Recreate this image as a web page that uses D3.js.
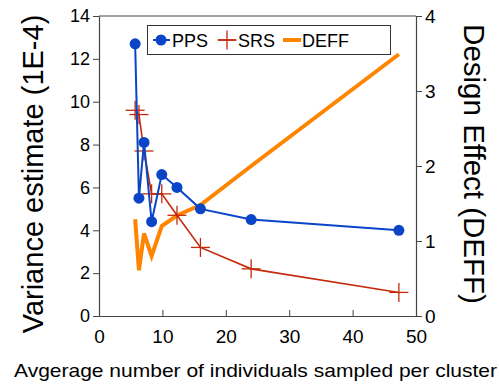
<!DOCTYPE html>
<html><head><meta charset="utf-8">
<script src="https://cdn.jsdelivr.net/npm/d3@7"></script>
<style>body{margin:0;background:#fff}svg{display:block}text{font-family:"Liberation Sans",Arial,sans-serif}</style>
</head><body><div id="c"></div>
<script>
const xValues = [5.7, 6.3, 7.1, 8.3, 9.9, 12.3, 16, 24, 47.3];
const ppsValues = [12.7, 5.5, 8.1, 4.4, 6.6, 6.0, 5.0, 4.5, 4.0];
const srsValues = [9.6, 9.4, 7.7, 5.7, 5.7, 4.7, 3.2, 2.2, 1.1];
const deffValues = [1.29, 0.61, 1.1, 0.8, 1.2, 1.34, 1.48, 2.0, 3.49];
const xTicks = [0, 10, 20, 30, 40, 50];
const yTicks = [0, 2, 4, 6, 8, 10, 12, 14];
const y2Ticks = [0, 1, 2, 3, 4];
const seriesNames = ["PPS", "SRS", "DEFF"];

const W = 499, H = 385;
const L = 99, R = 416, T = 16, B = 316;
const svg = d3.select("#c").append("svg").attr("width", W).attr("height", H);
const x = d3.scaleLinear().domain([0, 50]).range([L, R]);
const y = d3.scaleLinear().domain([0, 14]).range([B, T]);
const y2 = d3.scaleLinear().domain([0, 4]).range([B, T]);
const axisCol = "#444";
const blue = "#0a45c8", red = "#c42a0c", orange = "#ff8400";

// top frame
svg.append("line").attr("x1", L).attr("x2", R).attr("y1", T).attr("y2", T).attr("stroke", axisCol).attr("stroke-width", 1);

function styleAxis(g, fs) {
  g.select(".domain").attr("stroke", axisCol).attr("stroke-width", 1.2);
  g.selectAll(".tick line").attr("stroke", axisCol);
  g.selectAll(".tick text").attr("fill", "#000").style("font-size", fs + "px").style("font-family", '"Liberation Sans",Arial,sans-serif');
}

const gx = svg.append("g").attr("transform", `translate(0,${B})`)
  .call(d3.axisBottom(x).tickValues(xTicks).tickFormat(d3.format("d")).tickSizeInner(-6).tickSizeOuter(0).tickPadding(14));
styleAxis(gx, 19);
gx.selectAll(".tick text").attr("dy", "0.71em");

const gy = svg.append("g").attr("transform", `translate(${L},0)`)
  .call(d3.axisLeft(y).tickValues(yTicks).tickFormat(d3.format("d")).tickSizeInner(6).tickSizeOuter(0).tickPadding(3));
styleAxis(gy, 18);

const gy2 = svg.append("g").attr("transform", `translate(${R},0)`)
  .call(d3.axisRight(y2).tickValues(y2Ticks).tickFormat(d3.format("d")).tickSizeInner(6).tickSizeOuter(0).tickPadding(3));
styleAxis(gy2, 19);

// titles
svg.append("text").attr("transform", `translate(43,${(T + B) / 2 + 8}) rotate(-90)`)
  .attr("text-anchor", "middle").style("font-size", "29px").text("Variance estimate (1E-4)");
svg.append("text").attr("transform", `translate(464,${(T + B) / 2 - 2}) rotate(90)`)
  .attr("text-anchor", "middle").style("font-size", "29.5px").text("Design Effect (DEFF)");
svg.append("text").attr("x", 14).attr("y", 377).style("font-size", "19px")
  .attr("textLength", 483).attr("lengthAdjust", "spacingAndGlyphs")
  .text("Avgerage number of individuals sampled per cluster");

const pts = (vals, sc) => xValues.map((d, i) => [x(d), sc(vals[i])]);
const line = d3.line();

// DEFF
svg.append("path").attr("d", line(pts(deffValues, y2))).attr("fill", "none")
  .attr("stroke", orange).attr("stroke-width", 4).attr("stroke-linejoin", "miter");

// SRS
svg.append("path").attr("d", line(pts(srsValues, y))).attr("fill", "none")
  .attr("stroke", red).attr("stroke-width", 1.6);
const plus = (g, cx, cy, s, col, w) => {
  g.append("line").attr("x1", cx - s).attr("x2", cx + s).attr("y1", cy).attr("y2", cy).attr("stroke", col).attr("stroke-width", w);
  g.append("line").attr("x1", cx).attr("x2", cx).attr("y1", cy - s).attr("y2", cy + s).attr("stroke", col).attr("stroke-width", w);
};
const gs = svg.append("g");
pts(srsValues, y).forEach(p => plus(gs, p[0], p[1], 9.5, red, 1.3));

// PPS
svg.append("path").attr("d", line(pts(ppsValues, y))).attr("fill", "none")
  .attr("stroke", blue).attr("stroke-width", 2);
svg.append("g").selectAll("circle").data(pts(ppsValues, y)).join("circle")
  .attr("cx", d => d[0]).attr("cy", d => d[1]).attr("r", 5.5).attr("fill", blue);

// legend
const lg = svg.append("g");
lg.append("rect").attr("x", 147.5).attr("y", 25.5).attr("width", 243).attr("height", 29)
  .attr("fill", "#fff").attr("stroke", "#333").attr("stroke-width", 1);
const ly = 40;
lg.append("line").attr("x1", 153).attr("x2", 170).attr("y1", ly).attr("y2", ly).attr("stroke", blue).attr("stroke-width", 2);
lg.append("circle").attr("cx", 161).attr("cy", ly).attr("r", 5.5).attr("fill", blue);
lg.append("text").attr("x", 172).attr("y", ly + 6.5).style("font-size", "18px").text(seriesNames[0]);
lg.append("line").attr("x1", 218).attr("x2", 236).attr("y1", ly).attr("y2", ly).attr("stroke", red).attr("stroke-width", 1.6);
plus(lg, 227, ly, 9.5, red, 1.3);
lg.append("text").attr("x", 238).attr("y", ly + 6.5).style("font-size", "18px").text(seriesNames[1]);
lg.append("line").attr("x1", 283).attr("x2", 301).attr("y1", ly).attr("y2", ly).attr("stroke", orange).attr("stroke-width", 4);
lg.append("text").attr("x", 302).attr("y", ly + 6.5).style("font-size", "18px").text(seriesNames[2]);
</script></body></html>
